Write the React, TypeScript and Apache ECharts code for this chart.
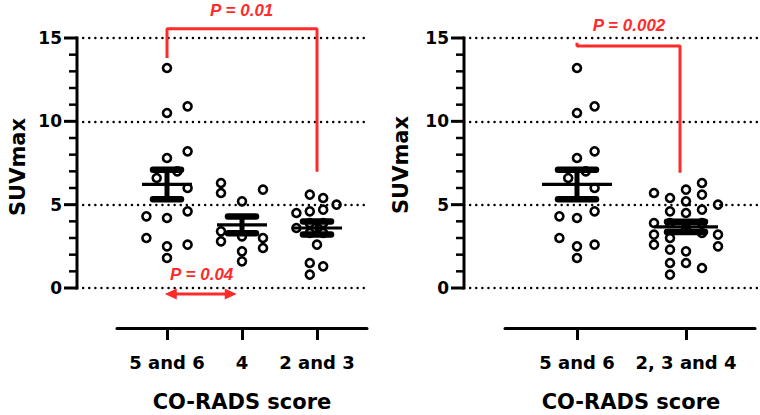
import React, { useEffect, useRef } from "react";
import * as echarts from "echarts";

// ---------- data ----------
const leftCategories = ["5 and 6", "4", "2 and 3"];
const rightCategories = ["5 and 6", "2, 3 and 4"];
const yTicks = [0, 5, 10, 15];

// SUVmax values, CO-RADS 5 and 6
const g56 = [13.2, 10.5, 10.9, 7.8, 8.2, 7.0, 6.6, 6.0, 4.6, 4.3, 4.2, 3.0, 2.5, 2.6, 1.8];
const g56Cols = [0, 0, 2, 0, 2, 1, -1, 2, 2, -2, 0, -2, 0, 2, 0];
// CO-RADS 4
const g4 = [6.3, 5.7, 5.9, 5.2, 3.4, 2.8, 3.1, 3.0, 2.4, 2.2, 1.6];
const g4Cols = [-2, -2, 2, 0, -2, -2, 0, 2, 2, 0, 0];
// CO-RADS 2 and 3
const g23 = [5.6, 5.4, 5.0, 4.5, 4.6, 4.7, 3.6, 3.9, 3.9, 3.3, 3.3, 2.6, 1.5, 1.3, 0.8];
const g23Cols = [-0.7, 0.6, 1.9, -2, -0.7, 0.6, -2, -0.7, 0.6, -0.7, 0.6, 0, -0.7, 0.6, -0.7];
// CO-RADS 2, 3 and 4 (right panel)
const g234 = [6.3, 5.9, 5.7, 5.6, 5.4, 5.2, 5.0, 4.7, 4.6, 4.5, 3.9, 3.9, 3.6, 3.9, 3.3, 3.2, 3.2, 3.0, 2.6, 2.5, 2.3, 2.2, 1.5, 1.5, 1.2, 0.8];
const g234Cols = [1, 0, -2, 1, -1, 0, 2, 1, -1, 0, -2, -1, 0, 1, 1, -2, 2, -1, -2, 2, -1, 0, -1, 0, 1, -1];

// significance annotations (x in category index, y in SUVmax)
const pLeftLong = "P = 0.01";
const pLeftShort = "P = 0.04";
const pRight = "P = 0.002";
const bracketLeft = [[0, 13.8], [0, 15.55], [2, 15.55], [2, 6.98]];
const arrowLeft = [[-0.03, -0.36], [0.93, -0.36]];
const bracketRight = [[0, 14.72], [0, 14.52], [0.945, 14.52], [0.945, 6.92]];

// ---------- layout / style ----------
const RED = "#ff2a2a";
const BLACK = "#000";
const NUM_FONT = "DejaVu Sans";
const P_FONT = "Liberation Sans";
const LEFT_SPACING = 75; // px between categories, left panel
const RIGHT_SPACING = 109;
const LEFT_SHIFT = 90 / LEFT_SPACING;
const RIGHT_SHIFT = 113 / RIGHT_SPACING;

const PLOT_TOP = 38;
const PLOT_H = 250;
const LEFT_PLOT = { left: 77, width: 288 };
const RIGHT_PLOT = { left: 464, width: 293 };

const Y_MIN = yTicks[0];
const Y_MAX = yTicks[yTicks.length - 1];
const Y_STEP = yTicks[1] - yTicks[0];
const MINOR_PER_MAJOR = 5;
const tickValues: number[] = [];
for (let v = Y_MIN; v <= Y_MAX + 1e-9; v += Y_STEP / MINOR_PER_MAJOR) tickValues.push(Math.round(v * 1000) / 1000);

function mean(a: number[]) {
  return a.reduce((s, v) => s + v, 0) / a.length;
}
function sem(a: number[]) {
  const m = mean(a);
  const v = a.reduce((s, x) => s + (x - m) * (x - m), 0) / (a.length - 1);
  return Math.sqrt(v / a.length);
}

function points(values: number[], cols: number[], cat: number, colPx: number, spacing: number, shift: number) {
  return values.map((v, i) => [shift + cat + (cols[i] * colPx) / spacing, v]);
}
function shiftPts(pts: number[][], shift: number) {
  return pts.map((p) => [p[0] + shift, p[1]]);
}

function makeRenderItem(meanHalf: number, capHalf: number) {
  return (params: any, api: any) => {
    const x = api.value(0);
    const m = api.value(1);
    const s = api.value(2);
    const c = api.coord([x, m]);
    const t = api.coord([x, m + s]);
    const b = api.coord([x, m - s]);
    return {
      type: "group",
      children: [
        { type: "line", shape: { x1: c[0], y1: t[1], x2: c[0], y2: b[1] }, style: { stroke: BLACK, lineWidth: 5 } },
        { type: "line", shape: { x1: c[0] - meanHalf, y1: c[1], x2: c[0] + meanHalf, y2: c[1] }, style: { stroke: BLACK, lineWidth: 3.2 } },
        { type: "line", shape: { x1: c[0] - capHalf, y1: t[1], x2: c[0] + capHalf, y2: t[1] }, style: { stroke: BLACK, lineWidth: 6.5, lineCap: "round" } },
        { type: "line", shape: { x1: c[0] - capHalf, y1: b[1], x2: c[0] + capHalf, y2: b[1] }, style: { stroke: BLACK, lineWidth: 6.5, lineCap: "round" } },
      ],
    };
  };
}

function arrowRenderItem(params: any, api: any) {
  const a = api.coord([api.value(0), api.value(1)]);
  const b = api.coord([api.value(2), api.value(3)]);
  const head = 12;
  const half = 5.5;
  return {
    type: "group",
    children: [
      { type: "line", shape: { x1: a[0] + head - 2, y1: a[1], x2: b[0] - head + 2, y2: b[1] }, style: { stroke: RED, lineWidth: 3 } },
      { type: "polygon", shape: { points: [[a[0], a[1]], [a[0] + head, a[1] - half], [a[0] + head, a[1] + half]] }, style: { fill: RED } },
      { type: "polygon", shape: { points: [[b[0], b[1]], [b[0] - head, b[1] - half], [b[0] - head, b[1] + half]] }, style: { fill: RED } },
    ],
  };
}

const scatterStyle = {
  type: "scatter",
  symbol: "circle",
  symbolSize: 8,
  silent: true,
  clip: false,
  itemStyle: { color: "rgba(0,0,0,0)", borderColor: BLACK, borderWidth: 2.6, opacity: 1 },
  z: 3,
};

function valueYAxis(gridIndex: number) {
  return {
    type: "value",
    gridIndex,
    position: "left",
    min: Y_MIN,
    max: Y_MAX,
    interval: Y_STEP,
    axisLine: { show: false },
    axisTick: { show: false },
    minorTick: { show: false },
    axisLabel: { color: BLACK, fontFamily: NUM_FONT, fontWeight: "bold", fontSize: 17, margin: 15 },
    splitLine: { show: true, lineStyle: { color: BLACK, width: 2.4, type: [0.1, 6], cap: "round" } },
    minorSplitLine: { show: false },
  };
}

function plotXAxis(gridIndex: number, max: number) {
  return {
    type: "value",
    gridIndex,
    min: 0,
    max,
    axisLine: { show: false },
    axisTick: { show: false },
    axisLabel: { show: false },
    splitLine: { show: false },
  };
}

function hiddenY(gridIndex: number) {
  return { type: "value", gridIndex, min: 0, max: 1, show: false, splitLine: { show: false } };
}

function catAxis(gridIndex: number, min: number, max: number, cats: string[]) {
  const vals = cats.map((_, i) => i);
  return {
    type: "value",
    gridIndex,
    min,
    max,
    position: "bottom",
    axisLine: { show: true, onZero: false, lineStyle: { color: BLACK, width: 3 } },
    axisTick: { show: true, customValues: vals, length: 12, lineStyle: { color: BLACK, width: 3 } },
    axisLabel: {
      show: true,
      customValues: vals,
      formatter: (v: number) => cats[Math.round(v)],
      color: BLACK,
      fontFamily: NUM_FONT,
      fontWeight: "bold",
      fontSize: 18,
      margin: 25,
    },
    splitLine: { show: false },
  };
}

function textEl(text: string, x: number, y: number, font: string, size: number, color: string, italic = false, rotation = 0) {
  return {
    type: "text",
    x,
    y,
    rotation,
    silent: true,
    style: {
      text,
      fill: color,
      font: `${italic ? "italic " : ""}bold ${size}px "${font}"`,
      textAlign: "center",
      textVerticalAlign: "middle",
    },
  };
}

// y-axis spine and ticks as filled rects, placed through the chart's y scale
function spineRects(chart: any, axisIndex: number, plot: { left: number }) {
  const toY = (v: number) => {
    try {
      const p = chart.convertToPixel({ xAxisIndex: axisIndex, yAxisIndex: axisIndex }, [0, v]);
      if (p && isFinite(p[1])) return p[1];
    } catch (e) {
      /* fall through */
    }
    return PLOT_TOP + PLOT_H * (1 - (v - Y_MIN) / (Y_MAX - Y_MIN));
  };
  const x = plot.left;
  const yTop = toY(Y_MAX);
  const yBot = toY(Y_MIN);
  const els: any[] = [
    { type: "rect", silent: true, z: 100, shape: { x: x - 1.5, y: yTop - 1.5, width: 3, height: yBot - yTop + 3 }, style: { fill: BLACK } },
  ];
  tickValues.forEach((v) => {
    const y = toY(v);
    const major = Math.abs(v / Y_STEP - Math.round(v / Y_STEP)) < 1e-6;
    const len = major ? 13 : 8;
    const th = major ? 3 : 2.5;
    els.push({ type: "rect", silent: true, z: 100, shape: { x: x - len, y: y - th / 2, width: len, height: th }, style: { fill: BLACK } });
  });
  return els;
}

function buildOption() {
  const leftMeans = [g56, g4, g23].map((g, i) => [LEFT_SHIFT + i, mean(g), sem(g)]);
  const rightMeans = [g56, g234].map((g, i) => [RIGHT_SHIFT + i, mean(g), sem(g)]);
  const arrow = shiftPts(arrowLeft, LEFT_SHIFT);

  return {
    animation: false,
    grid: [
      { left: LEFT_PLOT.left, top: PLOT_TOP, width: LEFT_PLOT.width, height: PLOT_H, outerBoundsMode: "none" },
      { left: 117, top: 327, width: 250, height: 1, outerBoundsMode: "none" },
      { left: RIGHT_PLOT.left, top: PLOT_TOP, width: RIGHT_PLOT.width, height: PLOT_H, outerBoundsMode: "none" },
      { left: 505, top: 327, width: 250, height: 1, outerBoundsMode: "none" },
    ],
    xAxis: [
      plotXAxis(0, LEFT_PLOT.width / LEFT_SPACING),
      catAxis(1, -50 / LEFT_SPACING, 2 + 50 / LEFT_SPACING, leftCategories),
      plotXAxis(2, RIGHT_PLOT.width / RIGHT_SPACING),
      catAxis(3, -72 / RIGHT_SPACING, 1 + 69 / RIGHT_SPACING, rightCategories),
    ],
    yAxis: [valueYAxis(0), hiddenY(1), valueYAxis(2), hiddenY(3)],
    series: [
      { ...scatterStyle, xAxisIndex: 0, yAxisIndex: 0, data: points(g56, g56Cols, 0, 10.3, LEFT_SPACING, LEFT_SHIFT) },
      { ...scatterStyle, xAxisIndex: 0, yAxisIndex: 0, data: points(g4, g4Cols, 1, 10.5, LEFT_SPACING, LEFT_SHIFT) },
      { ...scatterStyle, xAxisIndex: 0, yAxisIndex: 0, data: points(g23, g23Cols, 2, 10.3, LEFT_SPACING, LEFT_SHIFT) },
      { ...scatterStyle, xAxisIndex: 2, yAxisIndex: 2, data: points(g56, g56Cols, 0, 8.8, RIGHT_SPACING, RIGHT_SHIFT) },
      { ...scatterStyle, xAxisIndex: 2, yAxisIndex: 2, data: points(g234, g234Cols, 1, 16, RIGHT_SPACING, RIGHT_SHIFT) },
      { type: "custom", xAxisIndex: 0, yAxisIndex: 0, silent: true, clip: false, z: 5, data: leftMeans, renderItem: makeRenderItem(25, 14) },
      { type: "custom", xAxisIndex: 2, yAxisIndex: 2, silent: true, clip: false, z: 5, data: [rightMeans[0]], renderItem: makeRenderItem(35, 19) },
      { type: "custom", xAxisIndex: 2, yAxisIndex: 2, silent: true, clip: false, z: 5, data: [rightMeans[1]], renderItem: makeRenderItem(32, 19) },
      {
        type: "custom",
        xAxisIndex: 0,
        yAxisIndex: 0,
        silent: true,
        clip: false,
        z: 6,
        data: [[arrow[0][0], arrow[0][1], arrow[1][0], arrow[1][1]]],
        renderItem: arrowRenderItem,
      },
      {
        type: "line",
        xAxisIndex: 0,
        yAxisIndex: 0,
        data: shiftPts(bracketLeft, LEFT_SHIFT),
        symbol: "none",
        clip: false,
        silent: true,
        z: 6,
        lineStyle: { color: RED, width: 3 },
      },
      {
        type: "line",
        xAxisIndex: 2,
        yAxisIndex: 2,
        data: shiftPts(bracketRight, RIGHT_SHIFT),
        symbol: "none",
        clip: false,
        silent: true,
        z: 6,
        lineStyle: { color: RED, width: 3 },
      },
    ],
    graphic: [
      textEl("SUVmax", 18, 167, NUM_FONT, 21, BLACK, false, Math.PI / 2),
      textEl("SUVmax", 401, 165, NUM_FONT, 21, BLACK, false, Math.PI / 2),
      textEl("CO-RADS score", 242, 402, NUM_FONT, 21, BLACK),
      textEl("CO-RADS score", 631, 402, NUM_FONT, 21, BLACK),
      textEl(pLeftLong, 241.7, 10, P_FONT, 17, RED, true),
      textEl(pLeftShort, 201.7, 274.5, P_FONT, 17, RED, true),
      textEl(pRight, 629, 25, P_FONT, 17, RED, true),
    ],
  };
}

export default function App() {
  const ref = useRef<HTMLDivElement>(null);
  useEffect(() => {
    if (!ref.current) return;
    const chart = echarts.init(ref.current, null, { renderer: "svg" });
    const option: any = buildOption();
    chart.setOption(option);
    let spines: any[] = [];
    try {
      spines = [...spineRects(chart, 0, LEFT_PLOT), ...spineRects(chart, 2, RIGHT_PLOT)];
    } catch (e) {
      spines = [];
    }
    chart.setOption({ graphic: [...option.graphic, ...spines] } as any);
    return () => chart.dispose();
  }, []);
  return (
    <div
      ref={ref}
      style={{ position: "absolute", left: 0, top: 0, width: 760, height: 415, background: "#fff" }}
    />
  );
}
